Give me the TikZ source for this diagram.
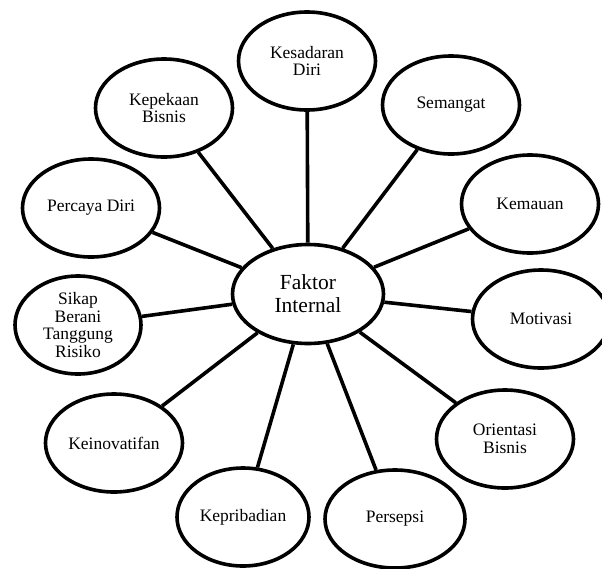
\documentclass[tikz,border=0pt]{standalone}
\usepackage{fontspec}
\setmainfont{Liberation Serif}
\usetikzlibrary{shapes.geometric}
\begin{document}
\begin{tikzpicture}[x=1pt,y=-1pt,
  bubble/.style={ellipse,draw,line width=3.6pt,inner sep=0pt,minimum width=137pt,minimum height=98pt,align=center,font=\fontsize{17.5}{17.5}\selectfont},
  hub/.style={ellipse,draw,line width=3.6pt,inner sep=0pt,minimum width=151pt,minimum height=99pt,align=center,font=\fontsize{21.5}{23}\selectfont},
  link/.style={line width=3.6pt}]
\useasboundingbox (0,0) rectangle (602,568);
\node[hub] (c) at (308,294) {Faktor\\Internal};
\node[bubble] (kes) at (307,61) {Kesadaran\\Diri};
\node[bubble] (kep) at (164,108) {Kepekaan\\Bisnis};
\node[bubble] (sem) at (451,105) {Semangat};
\node[bubble] (per) at (91,208) {Percaya Diri};
\node[bubble] (kem) at (530,204) {Kemauan};
\node[bubble,minimum width=126pt] (sik) at (78,325) {Sikap\\Berani\\Tanggung\\Risiko};
\node[bubble] (mot) at (541,319) {Motivasi};
\node[bubble] (kei) at (114,443) {Keinovatifan};
\node[bubble] (ori) at (505,439) {Orientasi\\Bisnis};
\node[bubble,minimum width=132pt] (kpr) at (243,517) {Kepribadian};
\node[bubble,minimum width=140pt] (pse) at (395,519) {Persepsi};
\foreach \n in {kes,kep,sem,per,kem,sik,mot,kei,ori,kpr,pse}
  \draw[link] (c) -- (\n);
\end{tikzpicture}
\end{document}
